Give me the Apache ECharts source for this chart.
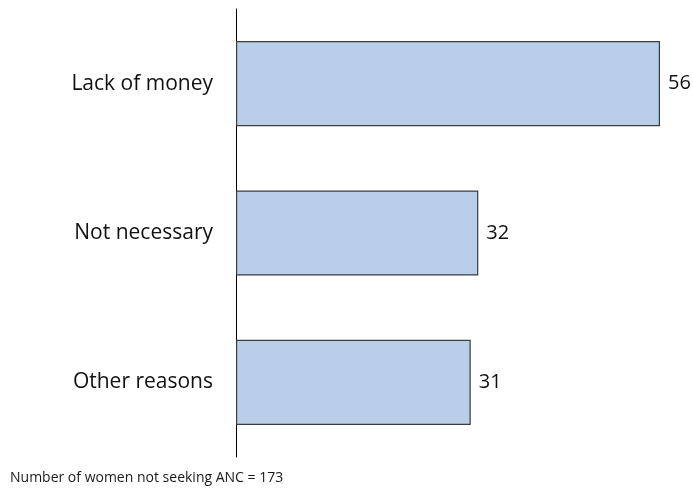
<!DOCTYPE html>
<html>
<head>
<meta charset="utf-8">
<script src="https://cdn.jsdelivr.net/npm/echarts@6/dist/echarts.min.js"></script>
<style>
  html, body { margin: 0; padding: 0; background: #fff; }
  #chart { width: 693px; height: 492px; }
</style>
</head>
<body>
<div id="chart"></div>
<script>
// reasons for not seeking antenatal care
const categories = ['Lack of money', 'Not necessary', 'Other reasons']
const values = [56, 32, 31]
const footnote = 'Number of women not seeking ANC = 173'

const font = '"Open Sans", "Noto Sans", sans-serif'

const chart = echarts.init(document.getElementById('chart'))
chart.setOption({
  animation: false,
  textStyle: { fontFamily: font },
  grid: { left: 236, right: 33, top: 9, bottom: 35 },
  graphic: [{
    type: 'text',
    left: 10,
    top: 471,
    style: { text: footnote, fontSize: 14, fill: '#1a1a1a', fontFamily: font }
  }],
  xAxis: {
    type: 'value',
    min: 0,
    max: 56,
    show: false
  },
  yAxis: {
    type: 'category',
    data: categories,
    inverse: true,
    axisLine: { show: true, lineStyle: { color: '#000', width: 1 } },
    axisTick: { show: false },
    axisLabel: { color: '#111', fontSize: 21, margin: 23, fontFamily: font }
  },
  series: [{
    type: 'bar',
    data: values,
    barCategoryGap: '43%',
    itemStyle: { color: '#b9cfe9', borderColor: '#3c3c3c', borderWidth: 1.2 },
    label: {
      show: true,
      position: 'right',
      distance: 8,
      color: '#111',
      fontSize: 20,
      fontFamily: font
    }
  }]
})
</script>
</body>
</html>
